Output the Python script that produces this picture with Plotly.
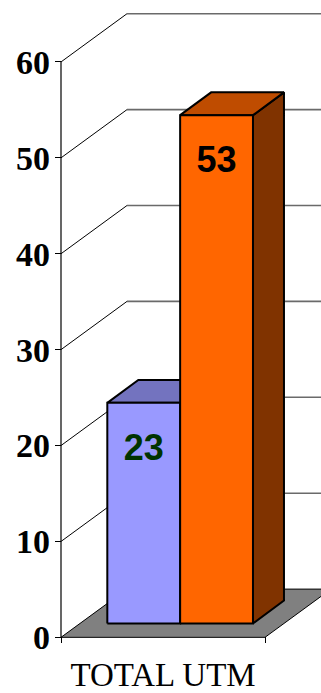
import plotly.graph_objects as go

# ---- data ----
categories = ["TOTAL UTM"]
series_values = [23, 53]
value_label_colors = ["#003300", "#000000"]
y_tick_values = [0, 10, 20, 30, 40, 50, 60]

# ---- styles ----
front_colors = ["#9999FF", "#FF6600"]
top_colors = ["#7373BF", "#BF4C00"]
side_colors = ["#5C5C99", "#803300"]
floor_color = "#808080"

# ---- oblique 3-D projection (in axis units) ----
FLOOR_DX, FLOOR_DY = 0.3235, 5.03      # depth of floor / walls
BAR_DX, BAR_DY = 0.152, 2.38           # depth of each bar
BAR_GAP, BAR_W = 0.227, 0.357          # left offset and width of the bars
BAR_BASE = 1.45                        # bar front sits slightly inside the floor
LABEL_DROP = 5.0                       # value label sits below the bar top

fig = go.Figure()


def polygon(xs, ys, fill, width=1.2, color="#000000"):
    fig.add_trace(go.Scatter(
        x=list(xs) + [xs[0]], y=list(ys) + [ys[0]],
        mode="lines", fill="toself", fillcolor=fill,
        line=dict(color=color, width=width),
        hoverinfo="skip", showlegend=False))


def lines(xs, ys, color, width):
    fig.add_trace(go.Scatter(
        x=xs, y=ys, mode="lines", line=dict(color=color, width=width),
        hoverinfo="skip", showlegend=False))


# floor
polygon([0, 1, 1 + FLOOR_DX, FLOOR_DX], [0, 0, FLOOR_DY, FLOOR_DY], floor_color, 1)

# gridlines: diagonal on the side wall, horizontal on the back wall
dx, dy, bx, by = [], [], [], []
for v in y_tick_values[1:]:
    dx += [0, FLOOR_DX, None]
    dy += [v, v + FLOOR_DY, None]
    bx += [FLOOR_DX, 1 + FLOOR_DX, None]
    by += [v + FLOOR_DY, v + FLOOR_DY, None]
lines(dx, dy, "#000000", 1)
lines(bx, by, "#6a6a6a", 1.6)

# value axis line
lines([0, 0], [0, max(y_tick_values)], "#000000", 1.2)

# bars
label_x, label_y = [], []
for i, v in enumerate(series_values):
    x0 = BAR_GAP + i * BAR_W
    x1 = x0 + BAR_W
    b = BAR_BASE
    t = BAR_BASE + v
    polygon([x1, x1 + BAR_DX, x1 + BAR_DX, x1], [b, b + BAR_DY, t + BAR_DY, t], side_colors[i], 2)
    polygon([x0, x1, x1 + BAR_DX, x0 + BAR_DX], [t, t, t + BAR_DY, t + BAR_DY], top_colors[i], 2)
    polygon([x0, x1, x1, x0], [b, b, t, t], front_colors[i], 2)
    label_x.append((x0 + x1) / 2)
    label_y.append(t - LABEL_DROP)

fig.add_trace(go.Scatter(
    x=label_x, y=label_y, mode="text",
    text=[str(v) for v in series_values],
    textposition="middle center",
    textfont=dict(family="Liberation Sans, Arial", size=36, color=value_label_colors, weight="bold"),
    hoverinfo="skip", showlegend=False))

fig.update_layout(
    width=321, height=693,
    margin=dict(l=55, r=0, t=0, b=46),
    paper_bgcolor="#FFFFFF", plot_bgcolor="#FFFFFF",
    showlegend=False,
    xaxis=dict(
        range=[-6 / 204, 1.2745], showgrid=False, zeroline=False, showline=False,
        tickvals=[0.5], ticktext=categories, ticks="",
        tickfont=dict(family="Liberation Serif, Times New Roman", size=33, color="#000000"),
        ticklabelstandoff=9,
        minor=dict(tickvals=[0, 1], ticks="inside", ticklen=6, tickcolor="#000000", tickwidth=1.2),
        fixedrange=True,
    ),
    yaxis=dict(
        range=[-0.591, 66.46], showgrid=False, zeroline=False, showline=False,
        tickvals=y_tick_values, ticks="inside", ticklen=6, tickcolor="#000000", tickwidth=1.2,
        tickfont=dict(family="Liberation Serif, Times New Roman", size=34, color="#000000", weight="bold"),
        ticklabelstandoff=4,
        fixedrange=True,
    ),
)

fig.write_html("out.html")
